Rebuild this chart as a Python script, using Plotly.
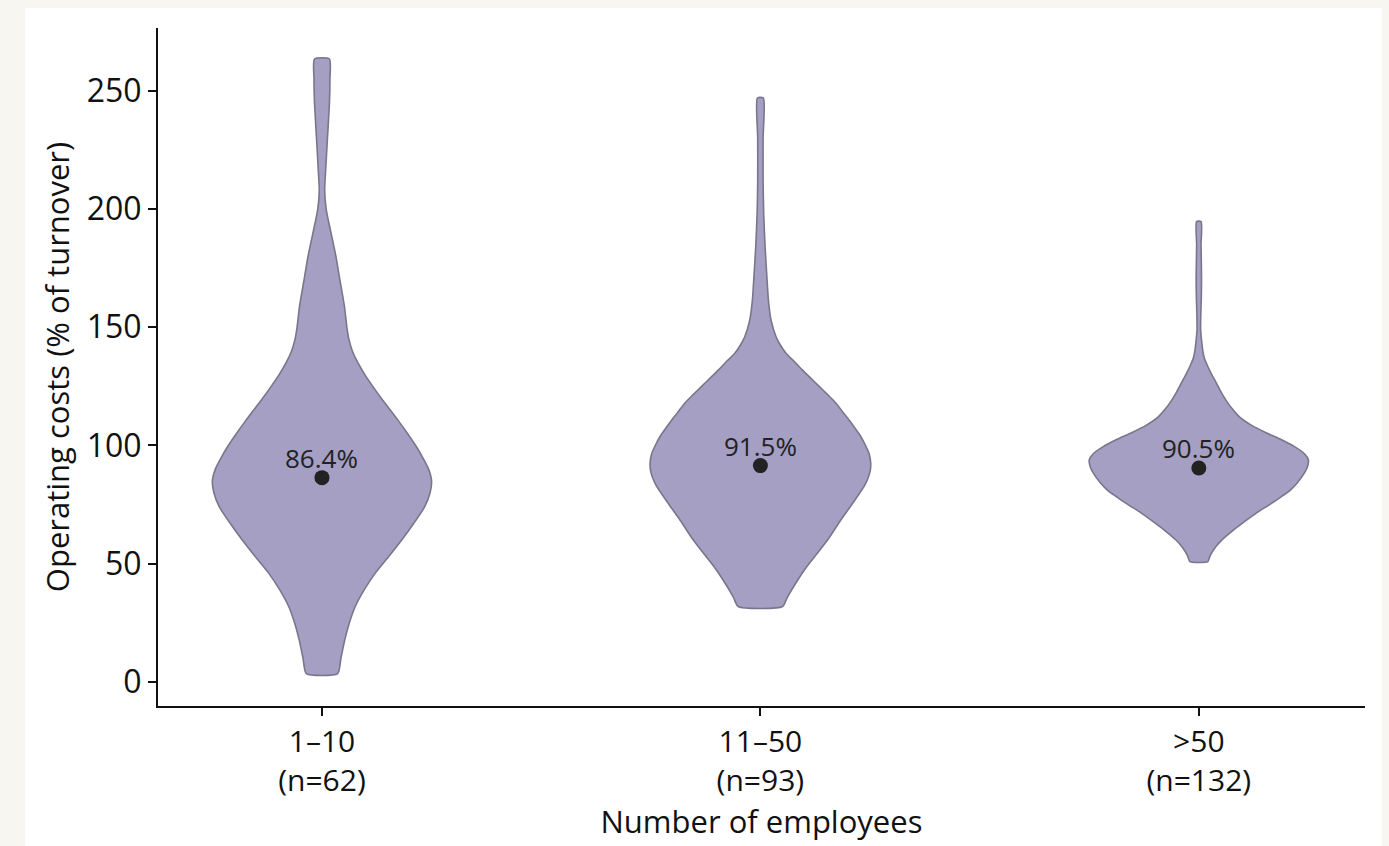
import plotly.graph_objects as go

# ---- data ----
categories = ["1–10<br>(n=62)", "11–50<br>(n=93)", ">50<br>(n=132)"]
means = [86.4, 91.5, 90.5]

# violin outlines: value levels and half-widths in pixels of the reference (110 = widest)
g1_y = [3.5, 10, 18, 25, 32, 39, 46, 53, 60, 67, 74, 80, 85, 90, 95, 100, 105, 110, 115, 120, 125, 130, 135, 140, 145, 150, 159, 170, 180, 194, 200, 208, 215, 230, 245, 255, 263.5]
g1_w = [15.7, 19, 23, 27.5, 33.5, 42.5, 53.5, 67, 80, 92, 103, 108.5, 110, 107, 101, 94, 86, 77.5, 68.5, 59.5, 51, 43, 36, 30.5, 27, 25, 22.5, 18, 14, 7, 4.2, 2.7, 3.5, 5.5, 7.5, 8, 7.5]

g2_y = [31.9, 36, 43, 49, 54.5, 61, 68.5, 74, 79.8, 83, 86.8, 89.5, 92.6, 96.7, 100, 103.8, 107, 110.8, 114, 118, 121.5, 125, 128.5, 132, 135.5, 139, 142.5, 146, 153, 161.6, 170, 184, 198, 212, 230, 247]
g2_w = [22.3, 27.3, 37.3, 47, 57.3, 69, 80.7, 90, 99.5, 104.5, 108.5, 110.3, 110.7, 109, 105.5, 100.7, 95.5, 89, 83, 75.7, 67.5, 59, 50.5, 42, 34, 25.7, 20, 15.7, 10.7, 8, 6.7, 4.7, 3.3, 2.7, 2.7, 3]

g3_y = [50.9, 53, 55, 57.2, 60, 64.3, 68, 71.5, 75, 78.4, 81, 84, 88.4, 91, 93.9, 96.5, 99.5, 102.4, 105.3, 108.5, 112, 115.5, 119, 122.5, 126.5, 130, 133.4, 137, 140, 145, 149, 156, 163, 170, 177, 185, 194.7]
g3_w = [9, 11, 13.5, 17, 23, 35, 46.5, 58, 71, 83, 91.5, 98.5, 106, 109, 110, 106, 96, 83, 68, 53, 41, 33.5, 27.5, 22.5, 17.5, 13, 9, 5.5, 4, 2.6, 1.8, 2.0, 2.5, 2.7, 2.5, 2.2, 2.3]

profiles = [(g1_y, g1_w), (g2_y, g2_w), (g3_y, g3_w)]

# ---- styling ----
FONT = "Open Sans"
FILL = "#a59fc4"
EDGE = "#78768a"
HALF = 0.25          # max half-width in category units
WMAX = 110.0         # reference widest half-width

fig = go.Figure()

for i, (ys, ws) in enumerate(profiles):
    xs_right = [i + HALF * w / WMAX for w in ws]
    xs_left = [i - HALF * w / WMAX for w in ws][::-1]
    px = xs_right + xs_left + [xs_right[0]]
    py = list(ys) + list(ys)[::-1] + [ys[0]]
    fig.add_trace(go.Scatter(
        x=px, y=py, mode="lines", fill="toself", fillcolor=FILL,
        line=dict(color=EDGE, width=1.6, shape="spline", smoothing=0.6),
        hoverinfo="skip", showlegend=False))

fig.add_trace(go.Scatter(
    x=list(range(len(means))), y=means, mode="markers",
    marker=dict(size=15, color="#222222"), showlegend=False))

for i, m in enumerate(means):
    fig.add_annotation(x=i, y=m, text=f"{m:.1f}%", showarrow=False,
                       yshift=20, font=dict(family=FONT, size=26, color="#222222"))

# white panel behind the chart
fig.add_shape(type="rect", xref="paper", yref="paper",
              x0=(25 - 158) / 1207, x1=(1382 - 158) / 1207,
              y0=(706 - 846) / 678 - 0.01, y1=(706 - 8) / 678,
              fillcolor="white", line=dict(width=0), layer="below")

fig.update_layout(
    width=1389, height=846,
    margin=dict(l=158, r=24, t=28, b=140),
    paper_bgcolor="#f7f6f1", plot_bgcolor="white",
    font=dict(family=FONT, size=30, color="#111111"),
    showlegend=False,
)
fig.update_xaxes(
    range=[-0.374, 2.379], tickvals=[0, 1, 2], ticktext=categories,
    tickfont=dict(family=FONT, size=30, color="#111111"),
    showline=True, linecolor="#111111", linewidth=2,
    ticks="outside", ticklen=8, tickwidth=1.5, tickcolor="#111111",
    showgrid=False, zeroline=False,
    title=dict(text="Number of employees", standoff=4,
               font=dict(family=FONT, size=31, color="#111111")),
)
fig.update_yaxes(
    range=[-10.2, 276.6], tickvals=[0, 50, 100, 150, 200, 250],
    tickfont=dict(family=FONT, size=32, color="#111111"),
    showline=True, linecolor="#111111", linewidth=2,
    ticks="outside", ticklen=8, tickwidth=1.5, tickcolor="#111111",
    showgrid=False, zeroline=False,
    title=dict(text="Operating costs (% of turnover)", standoff=8,
               font=dict(family=FONT, size=31, color="#111111")),
)

fig.write_html(
    "out.html",
    config={"displayModeBar": False},
    post_script="document.body.style.margin='0';document.body.style.background='#f7f6f1';",
)
